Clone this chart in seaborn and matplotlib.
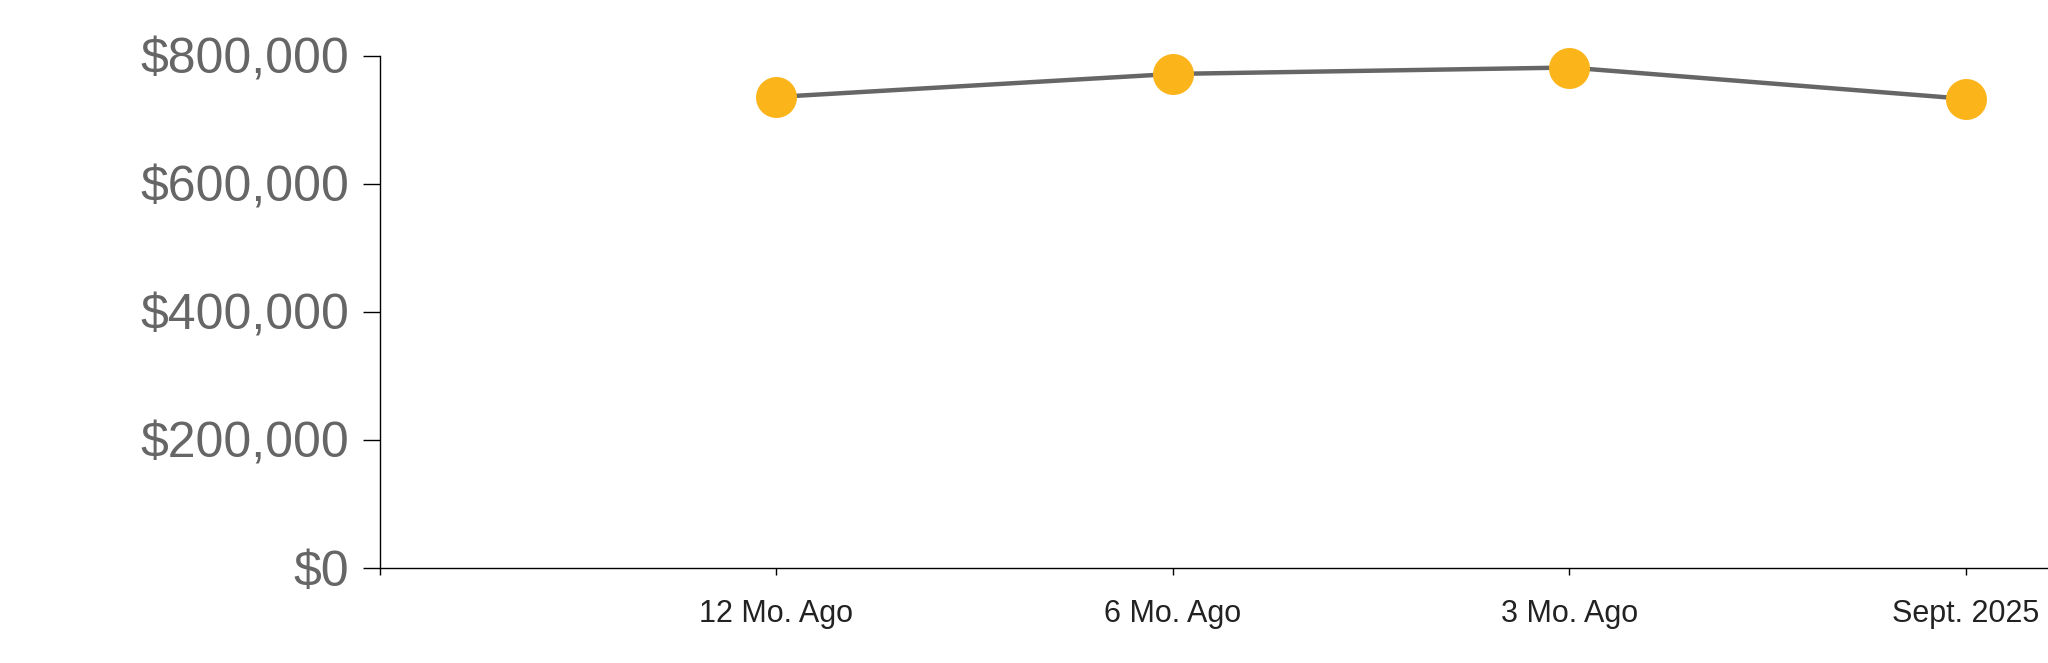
import matplotlib
matplotlib.use("Agg")
import matplotlib.pyplot as plt
import matplotlib.ticker as mticker
import seaborn as sns
import pandas as pd

# data
periods = ["12 Mo. Ago", "6 Mo. Ago", "3 Mo. Ago", "Sept. 2025"]
prices = [736000, 772000, 782000, 733000]
yticks = [0, 200000, 400000, 600000, 800000]

df = pd.DataFrame({"pos": range(len(periods)), "price": prices})

sns.set_style("white")
plt.rcParams['font.family'] = ['Liberation Sans', 'DejaVu Sans']

fig = plt.figure(figsize=(20.48, 6.63), dpi=100)
ax = fig.add_axes([380/2048, (663-568)/663, 1 - 380/2048, (568-56)/663])

sns.lineplot(data=df, x="pos", y="price", ax=ax, color="#666666", linewidth=3.2,
             marker="o", markersize=29.5, markerfacecolor="#FBB41A",
             markeredgecolor="#FBB41A", markeredgewidth=0, clip_on=False)

ax.set_xlim(-1, 3.207)
ax.set_ylim(0, 800000)
# extra unlabeled tick where the y axis meets the x axis
ax.set_xticks([-1] + list(range(len(periods))))
ax.set_xticklabels([""] + periods)
ax.set_yticks(yticks)
ax.yaxis.set_major_formatter(mticker.FuncFormatter(lambda v, p: "${:,.0f}".format(v)))

ax.tick_params(axis="y", length=12, width=1, color="black", pad=10,
               labelsize=36, labelcolor="#666666", left=True)
ax.tick_params(axis="x", length=5, width=1, color="black", pad=17,
               labelsize=22, labelcolor="#222222", bottom=True)

for side in ["top", "right"]:
    ax.spines[side].set_visible(False)
for side in ["left", "bottom"]:
    ax.spines[side].set_color("black")
    ax.spines[side].set_linewidth(1)

ax.set_xlabel("")
ax.set_ylabel("")

fig.savefig("out.png", dpi=100, facecolor="white")
